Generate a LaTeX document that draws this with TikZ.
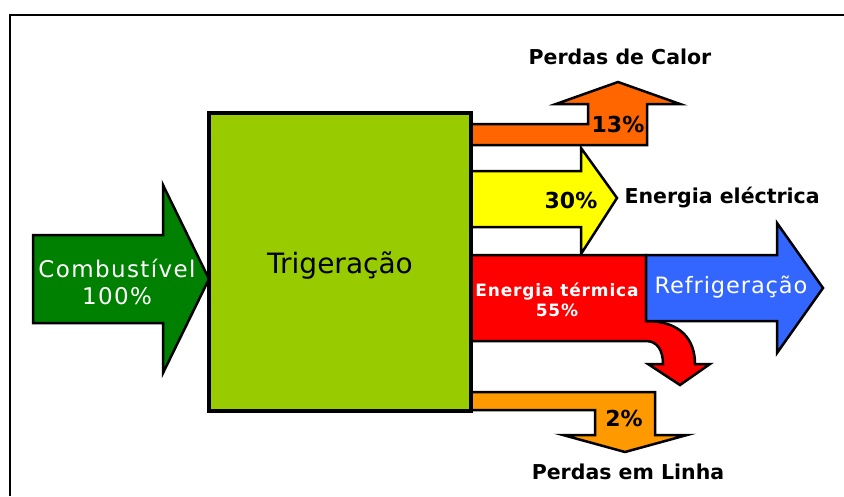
\documentclass[tikz,border=0pt]{standalone}
\usepackage{fontspec}
\setmainfont{DejaVu Sans}

\definecolor{fuelgreen}{HTML}{008000}
\definecolor{boxgreen}{HTML}{99CC00}
\definecolor{heatorange}{HTML}{FF6600}
\definecolor{elecyellow}{HTML}{FFFF00}
\definecolor{thermred}{HTML}{FF0000}
\definecolor{coolblue}{HTML}{3366FF}
\definecolor{lineorange}{HTML}{FF9900}

\begin{document}
\begin{tikzpicture}[x=1pt,y=-1pt,
  flow/.style={draw=black, line width=2.5pt, line join=miter},
  blacklbl/.style={font=\fontsize{20.5}{22}\selectfont\bfseries},
  pctlbl/.style={font=\fontsize{22}{24}\selectfont\bfseries},
  whitelbl/.style={text=white, align=center,
    font=\fontsize{23}{27}\selectfont\addfontfeature{LetterSpace=6}}]

\useasboundingbox (0,0) rectangle (844,496);

% frame
\draw[line width=2pt] (10,496) -- (10,15) -- (844,15);

% fuel input
\fill[flow, fill=fuelgreen] (33,235) -- (163,235) -- (163,185) -- (209,279)
  -- (163,373) -- (163,323) -- (33,323) -- cycle;
\node[whitelbl] (fuel) at (117,282) {Combustível\\100\%};

% heat losses
\fill[flow, fill=heatorange] (471,124) -- (588,124) -- (588,104) -- (556,104)
  -- (618,82) -- (680,104) -- (647,104) -- (647,145) -- (471,145) -- cycle;
\node[pctlbl] (heatpct) at (618,124) {13\%};
\node[blacklbl] (heatloss) at (620,57) {Perdas de Calor};

% electricity
\fill[flow, fill=elecyellow] (471,171) -- (581,171) -- (581,148) -- (617,198)
  -- (581,254) -- (581,227) -- (471,227) -- cycle;
\node[pctlbl] (elecpct) at (571,200) {30\%};
\node[blacklbl, anchor=west] (elec) at (621,198) {Energia eléctrica};

% thermal energy
\fill[flow, fill=thermred] (471,255) -- (646,255) -- (646,321)
  .. controls (681,321) and (695,340) .. (695,364) -- (710,364) -- (680,385)
  -- (648,364) -- (663,364) .. controls (663,350) and (657,341) .. (646,341)
  -- (471,341) -- cycle;
\node[whitelbl, font=\fontsize{17}{20}\selectfont\bfseries\addfontfeature{LetterSpace=5}]
  (therm) at (557,300) {Energia térmica\\55\%};

% cooling
\fill[flow, fill=coolblue] (646,255) -- (777,255) -- (777,223) -- (823,288)
  -- (777,353) -- (777,321) -- (646,321) -- cycle;
\node[whitelbl, font=\fontsize{22.5}{27}\selectfont\addfontfeature{LetterSpace=4}]
  (cool) at (731,287) {Refrigeração};

% line losses
\fill[flow, fill=lineorange] (471,392) -- (655,392) -- (655,435) -- (687,435)
  -- (625,452) -- (563,435) -- (595,435) -- (595,410) -- (471,410) -- cycle;
\node[pctlbl] (linepct) at (624,418) {2\%};
\node[blacklbl] (lineloss) at (628,472) {Perdas em Linha};

% trigeneration unit
\filldraw[fill=boxgreen, draw=black, line width=4pt] (209,113) rectangle (471,411);
\node[font=\fontsize{28}{32}\selectfont] (trig) at (340,266) {Trigeração};

\end{tikzpicture}
\end{document}
